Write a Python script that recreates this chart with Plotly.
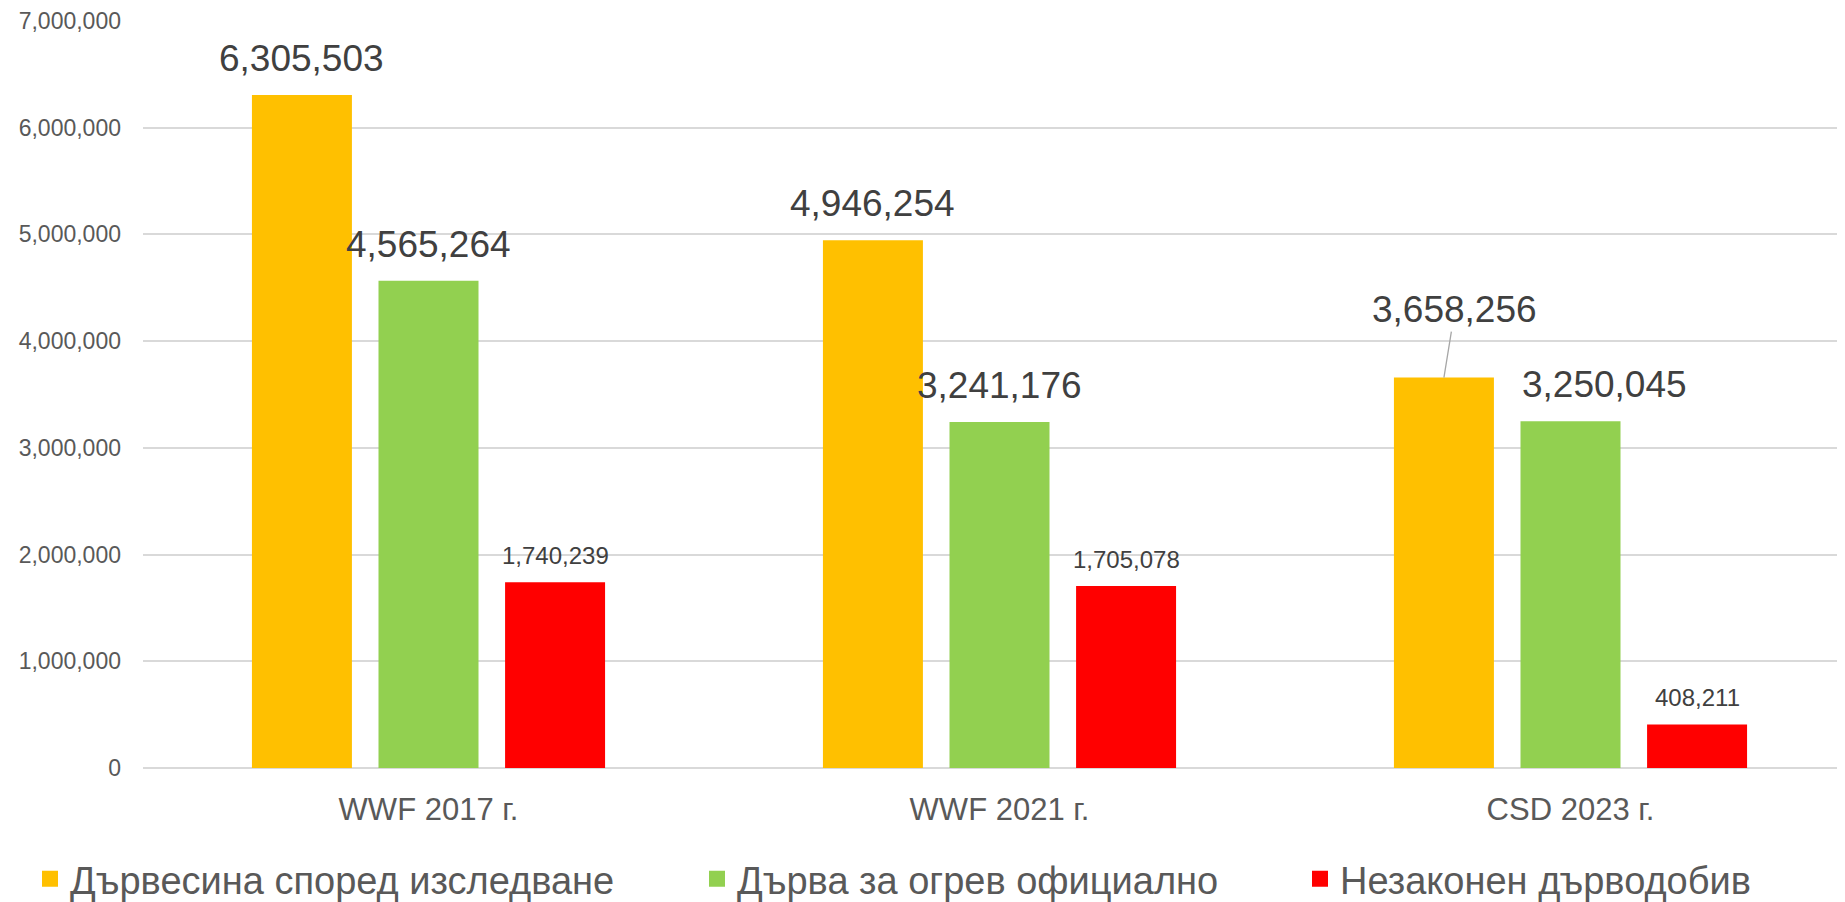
import plotly.graph_objects as go

# ---- data ----
categories = ["WWF 2017 г.", "WWF 2021 г.", "CSD 2023 г."]
series_names = ["Дървесина според изследване", "Дърва за огрев официално", "Незаконен дърводобив"]
survey_wood = [6305503, 4946254, 3658256]
official_firewood = [4565264, 3241176, 3250045]
illegal_logging = [1740239, 1705078, 408211]
y_ticks = [0, 1000000, 2000000, 3000000, 4000000, 5000000, 6000000, 7000000]

# ---- style ----
colors = ["#FFC000", "#92D050", "#FF0000"]
FONT = "Liberation Sans, Arial, sans-serif"
label_sizes = [37, 37, 24]
label_color = "#404040"
axis_color = "#595959"
grid_color = "#D9D9D9"
BARGAP = 0.335
BARGROUPGAP = 0.21
slot = (1 - BARGAP) / 3
offsets = [-slot, 0.0, slot]

# page body has an 8px margin: figure is sized/positioned to compensate
PAGE_OFF = 8
W, H = 1845 - PAGE_OFF, 902 - PAGE_OFF
M_L, M_R, M_T, M_B = 143 - PAGE_OFF, 0, 21 - PAGE_OFF, H - (768 - PAGE_OFF)
plot_w = W - M_L - M_R
unit_px = 571.0
x_range = [-0.5, -0.5 + plot_w / unit_px]

# legend placement (figure pixels of each legend item start)
legend_px = [22, 689, 1292]
legend_center_y = 879 - PAGE_OFF

all_series = [survey_wood, official_firewood, illegal_logging]
xs = list(range(len(categories)))

fig = go.Figure()
for i, (name, vals) in enumerate(zip(series_names, all_series)):
    fig.add_trace(go.Bar(
        x=xs, y=vals, name=name, marker=dict(color=colors[i], line=dict(width=0)),
        showlegend=False, hoverinfo="skip",
    ))

# legend proxies (one legend each, to match the spacing of the original)
legend_keys = ["legend", "legend2", "legend3"]
for i, name in enumerate(series_names):
    fig.add_trace(go.Scatter(
        x=[None], y=[None], mode="markers", name=name,
        marker=dict(symbol="square", size=16, color=colors[i], line=dict(width=0)),
        legend=legend_keys[i], showlegend=True,
    ))

# data labels
annotations = []
leader = {(0, 2): (11, -68)}      # label lifted with a leader line
nudge = {(1, 2): 34}              # label moved sideways (pixels)
for si, vals in enumerate(all_series):
    for ci, v in enumerate(vals):
        xpos = xs[ci] + offsets[si]
        txt = f"{v:,}"
        if (si, ci) in leader:
            ax, ay = leader[(si, ci)]
            annotations.append(dict(
                x=xpos, y=v, xref="x", yref="y", text=txt, showarrow=True,
                ax=ax, ay=ay, arrowhead=0, arrowwidth=1.3, arrowcolor="#A6A6A6",
                standoff=0, startstandoff=0,
                font=dict(family=FONT, size=label_sizes[si], color=label_color),
            ))
        else:
            annotations.append(dict(
                x=xpos, y=v, xref="x", yref="y", text=txt, showarrow=False,
                yanchor="bottom", xanchor="center",
                xshift=nudge.get((si, ci), 0),
                yshift=14 if label_sizes[si] > 30 else 11,
                font=dict(family=FONT, size=label_sizes[si], color=label_color),
            ))

def legend_cfg(px):
    return dict(
        orientation="h", xref="container", yref="container",
        x=px / W, xanchor="left",
        y=1 - legend_center_y / H, yanchor="middle",
        font=dict(family=FONT, size=38, color=axis_color),
        bgcolor="rgba(0,0,0,0)", borderwidth=0, itemclick=False,
    )

fig.update_layout(
    width=W, height=H,
    margin=dict(l=M_L, r=M_R, t=M_T, b=M_B, pad=0, autoexpand=False),
    paper_bgcolor="white", plot_bgcolor="white",
    barmode="group", bargap=BARGAP, bargroupgap=BARGROUPGAP,
    font=dict(family=FONT, color=axis_color),
    annotations=annotations,
    legend=legend_cfg(legend_px[0]),
    legend2=legend_cfg(legend_px[1]),
    legend3=legend_cfg(legend_px[2]),
    xaxis=dict(
        range=x_range, tickmode="array", tickvals=xs, ticktext=categories,
        showgrid=False, zeroline=False, showline=False, ticks="",
        tickfont=dict(family=FONT, size=31, color=axis_color),
        ticklabelstandoff=20, fixedrange=True,
    ),
    yaxis=dict(
        range=[0, 7000000], tickmode="array", tickvals=y_ticks,
        tickformat=",d", showgrid=True, gridcolor=grid_color, gridwidth=1.6,
        zeroline=True, zerolinecolor=grid_color, zerolinewidth=1.6,
        showline=False, ticks="",
        tickfont=dict(family=FONT, size=23, color=axis_color),
        ticklabelstandoff=21, fixedrange=True,
    ),
)

fig.write_html("out.html")
